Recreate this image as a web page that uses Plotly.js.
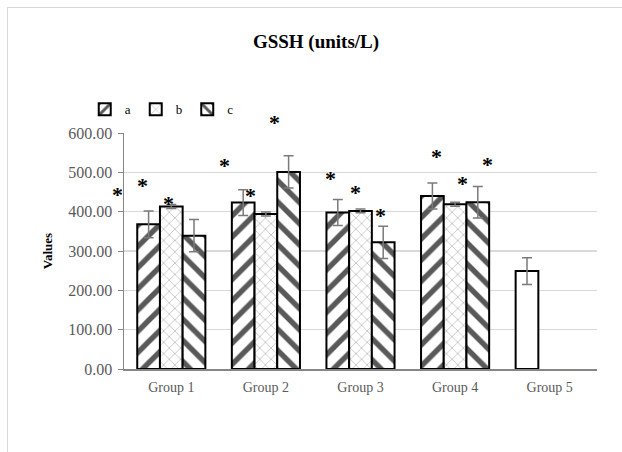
<!DOCTYPE html>
<html><head><meta charset="utf-8">
<script src="https://cdn.plot.ly/plotly-3.0.1.min.js"></script>
<style>
html,body{margin:0;padding:0;background:#fff;}
#wrap{position:relative;width:622px;height:452px;overflow:hidden;}
#frame{position:absolute;left:7px;top:7px;width:700px;height:600px;border-left:1px solid #d9d9d9;border-top:1px solid #d9d9d9;pointer-events:none;}
#chart{position:absolute;left:0;top:0;width:622px;height:452px;}
</style></head>
<body><div id="wrap"><div id="chart"></div><div id="frame"></div></div>
<script>
const categories = ["Group 1", "Group 2", "Group 3", "Group 4", "Group 5"];
const seriesNames = ["a", "b", "c"];
const valuesA = [368, 423, 398, 440, 249];
const valuesB = [413, 394, 402, 419, null];
const valuesC = [339, 501, 322, 424, null];
const errA = [34, 33, 33, 33, 34];
const errB = [5, 5, 5, 5, null];
const errC = [41, 41, 41, 40, null];
// significance asterisks: category index + offset, and value height
const starX = [-0.566, -0.301, -0.029, 0.562, 0.835, 1.095, 1.682, 1.950, 2.215, 2.805, 3.082, 3.347];
const starY = [448, 471, 425, 523, 446, 632, 489, 453, 395, 546, 476, 526];

const serif = "Liberation Serif, Times New Roman, serif";
const errStyle = {type: "data", visible: true, color: "#7a7a7a", thickness: 1.5, width: 5};
const lineStyle = {color: "#000", width: 2};

const W = 622, H = 452, M = {l: 124, r: 25, t: 133, b: 83};
const xRange = [-0.5, 4.5], yRange = [0, 600];

const traces = [
  {type: "bar", name: seriesNames[0], x: categories, y: valuesA,
   error_y: Object.assign({array: errA}, errStyle),
   marker: {color: "#ffffff", line: lineStyle,
     pattern: {shape: ["/", "/", "/", "/", ""], fgcolor: "#595959", fgopacity: 1, bgcolor: "#ffffff", size: 15, solidity: 0.36, fillmode: "overlay"}}},
  {type: "bar", name: seriesNames[1], x: categories, y: valuesB,
   error_y: Object.assign({array: errB}, errStyle),
   marker: {color: "#ffffff", line: lineStyle,
     pattern: {shape: "x", fgcolor: "#808080", fgopacity: 1, bgcolor: "#ffffff", size: 8, solidity: 0.1, fillmode: "overlay"}}},
  {type: "bar", name: seriesNames[2], x: categories, y: valuesC,
   error_y: Object.assign({array: errC}, errStyle),
   marker: {color: "#ffffff", line: lineStyle,
     pattern: {shape: "\\", fgcolor: "#595959", fgopacity: 1, bgcolor: "#ffffff", size: 15, solidity: 0.36, fillmode: "overlay"}}}
];

// annotations outside the axis range are hidden by plotly, so clamp the anchor
// into range and move the text the remaining distance with a pixel shift
const pxPerX = (W - M.l - M.r) / (xRange[1] - xRange[0]);
const pxPerY = (H - M.t - M.b) / (yRange[1] - yRange[0]);
const annotations = starX.map((x, i) => {
  const cx = Math.min(Math.max(x, xRange[0]), xRange[1]);
  const cy = Math.min(Math.max(starY[i], yRange[0]), yRange[1]);
  return {
    x: cx, y: cy, xref: "x", yref: "y", text: "<b>*</b>", showarrow: false,
    font: {family: serif, size: 22, color: "#000000"},
    xshift: (x - cx) * pxPerX, yshift: (starY[i] - cy) * pxPerY - 2
  };
});

const layout = {
  width: W, height: H,
  margin: M,
  paper_bgcolor: "#fff", plot_bgcolor: "#fff",
  font: {family: serif, size: 14, color: "#595959"},
  title: {text: "<b>GSSH (units/L)</b>", x: 0.508, xanchor: "center", y: 0.909, yanchor: "middle",
          font: {family: serif, size: 19, color: "#000"}},
  barmode: "group", bargap: 0.28, bargroupgap: 0,
  showlegend: true,
  legend: {orientation: "h", x: -0.083, xanchor: "left", y: 1.10, yanchor: "middle",
           font: {family: serif, size: 13, color: "#000"}, itemwidth: 30, traceorder: "normal",
           bgcolor: "rgba(0,0,0,0)"},
  xaxis: {type: "category", range: xRange, autorange: false, showline: true, linecolor: "#868686", linewidth: 1.5,
          ticks: "", showgrid: false, ticklabelstandoff: 5,
          tickfont: {family: serif, size: 14, color: "#595959"}},
  yaxis: {range: yRange, autorange: false, dtick: 100, tickformat: ".2f", showline: true, linecolor: "#868686", linewidth: 1.5,
          ticks: "outside", ticklen: 5, tickcolor: "#868686", gridcolor: "#d9d9d9", gridwidth: 1.5,
          ticklabelstandoff: 2,
          zeroline: false, tickfont: {family: serif, size: 16, color: "#595959"},
          title: {text: "<b>Values</b>", font: {family: serif, size: 13, color: "#000"}, standoff: 12}},
  annotations: annotations
};

Plotly.newPlot("chart", traces, layout, {displayModeBar: false, staticPlot: true});
</script>
</body></html>
